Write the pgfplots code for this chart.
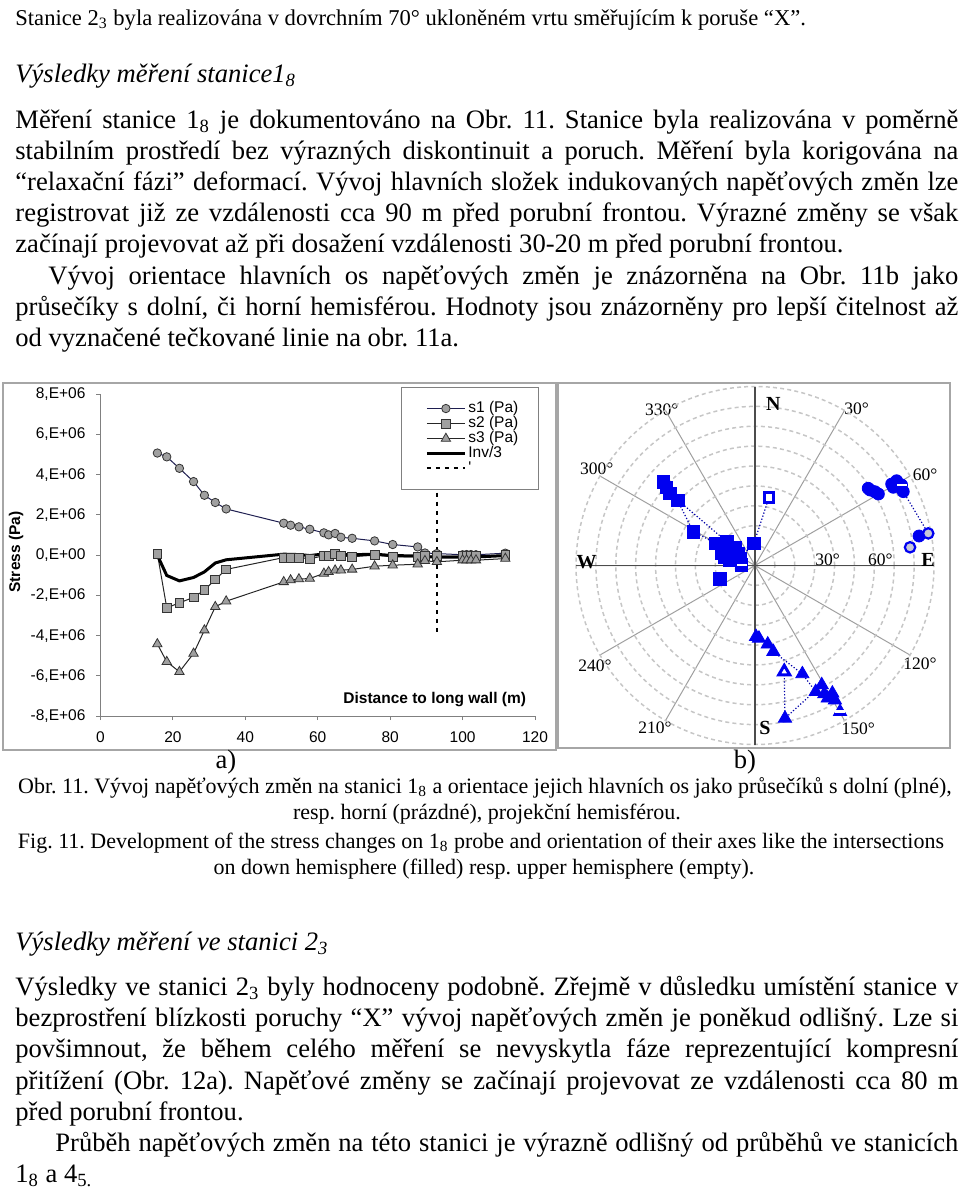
\documentclass[border=0pt]{standalone}
\usepackage{fontspec}
\setmainfont{Liberation Serif}
\newfontfamily\arial{Liberation Sans}
\usepackage{pgfplots}
\pgfplotsset{compat=1.18}
\usepgfplotslibrary{polar}
\definecolor{mk}{RGB}{160,160,160}
\definecolor{navy1}{RGB}{30,30,80}
\definecolor{pblue}{RGB}{0,0,240}
\newcommand\bodyf{\fontsize{13.3pt}{15.5pt}\selectfont}
\newcommand\capf{\fontsize{11pt}{13pt}\selectfont}
\newcommand\chf{\arial\fontsize{7.75pt}{9pt}\selectfont}
\newcommand\jl[4]{\node[anchor=base west,inner sep=0pt] at (#1,#2) {\bodyf\makebox[#3][s]{#4}};}
\newcommand\tl[3]{\node[anchor=base west,inner sep=0pt] at (#1,#2) {\bodyf #3};}
\frenchspacing
\begin{document}
\begin{tikzpicture}
\begin{scope}[x=0.5pt,y=-0.5pt]
\path[use as bounding box] (0,0) rectangle (960,1190);
% ---------- text above ----------
\node[anchor=base west,inner sep=0pt] at (15,25) {\fontsize{11.3pt}{13pt}\selectfont Stanice 2\textsubscript{3} byla realizována v dovrchním 70° ukloněném vrtu směřujícím k poruše “X”.};
\tl{15}{82}{\itshape Výsledky měření stanice1\textsubscript{8}}
\jl{15}{128}{471.5pt}{Měření stanice 1\textsubscript{8} je dokumentováno na Obr. 11. Stanice byla realizována v poměrně}
\jl{15}{159}{471.5pt}{stabilním prostředí bez výrazných diskontinuit a poruch. Měření byla korigována na}
\jl{15}{190}{471.5pt}{“relaxační fázi” deformací. Vývoj hlavních složek indukovaných napěťových změn lze}
\jl{15}{221}{471.5pt}{registrovat již ze vzdálenosti cca 90 m před porubní frontou. Výrazné změny se však}
\tl{15}{252}{začínají projevovat až při dosažení vzdálenosti 30-20 m před porubní frontou.}
\jl{48}{284}{455pt}{Vývoj orientace hlavních os napěťových změn je znázorněna na Obr. 11b jako}
\jl{15}{315}{471.5pt}{průsečíky s dolní, či horní hemisférou. Hodnoty jsou znázorněny pro lepší čitelnost až}
\tl{15}{346}{od vyznačené tečkované linie na obr. 11a.}
% ---------- frames ----------
\draw[gray!70, line width=0.6pt] (3,383) rectangle (556,750);
\draw[gray!70, line width=0.6pt] (558,383) rectangle (950,748);
\node[font=\chf\bfseries, rotate=90] at (16,552) {Stress (Pa)};
% polar labels
\begin{scope}[font=\fontsize{8.75pt}{10pt}\selectfont]
\node at (856.7,408.3) {30°};
\node at (925,475) {60°};
\node at (920,663.3) {120°};
\node at (858.3,728.3) {150°};
\node at (655,727.7) {210°};
\node at (595,665.7) {240°};
\node at (596.7,468.3) {300°};
\node at (661.7,409.3) {330°};
\end{scope}
% ---------- captions ----------
\node[anchor=base, inner sep=0pt] at (226,768) {\bodyf a)};
\node[anchor=base, inner sep=0pt] at (745,768) {\bodyf b)};
\node[anchor=base, inner sep=0pt] at (485,793) {\capf Obr. 11. Vývoj napěťových změn na stanici 1\textsubscript{8} a orientace jejich hlavních os jako průsečíků s dolní (plné),};
\node[anchor=base, inner sep=0pt] at (487,819) {\capf resp. horní (prázdné), projekční hemisférou.};
\node[anchor=base, inner sep=0pt] at (481,848) {\capf Fig. 11. Development of the stress changes on 1\textsubscript{8} probe and orientation of their axes like the intersections};
\node[anchor=base, inner sep=0pt] at (484,874) {\capf on down hemisphere (filled) resp. upper hemisphere (empty).};
% ---------- text below ----------
\tl{15}{950}{\itshape Výsledky měření ve stanici 2\textsubscript{3}}
\jl{15}{995}{471.5pt}{Výsledky ve stanici 2\textsubscript{3} byly hodnoceny podobně. Zřejmě v důsledku umístění stanice v}
\jl{15}{1026}{471.5pt}{bezprostření blízkosti poruchy “X” vývoj napěťových změn je poněkud odlišný. Lze si}
\jl{15}{1057}{471.5pt}{povšimnout, že během celého měření se nevyskytla fáze reprezentující kompresní}
\jl{15}{1089}{471.5pt}{přitížení (Obr. 12a). Napěťové změny se začínají projevovat ze vzdálenosti cca 80 m}
\tl{15}{1120}{před porubní frontou.}
\jl{55}{1151}{451.5pt}{Průběh napěťových změn na této stanici je výrazně odlišný od průběhů ve stanicích}
\tl{15}{1182}{1\textsubscript{8} a 4\textsubscript{5.}}
\end{scope}
% ---------- chart a ----------
\begin{axis}[
  at={(50.25pt,-358pt)}, anchor=south west,
  scale only axis, width=217.25pt, height=160.85pt,
  xmin=0, xmax=120, ymin=-8000000, ymax=8000000,
  axis x line*=bottom, axis y line*=left,
  axis line style={gray, line width=0.5pt},
  tick style={gray, line width=0.5pt},
  tick align=outside, major tick length=2pt,
  xtick={0,20,40,60,80,100,120},
  xticklabels={0,20,40,60,80,100,120},
  ytick={-8000000,-6000000,-4000000,-2000000,0,2000000,4000000,6000000,8000000},
  yticklabels={{-8,E+06},{-6,E+06},{-4,E+06},{-2,E+06},{0,E+00},{2,E+06},{4,E+06},{6,E+06},{8,E+06}},
  ticklabel style={font=\chf, text=black},
  yticklabel style={xshift=-2pt},
  xticklabel style={yshift=-2.5pt},
  scaled y ticks=false,
  clip=false,
  legend style={at={(0.6916,1.0227)}, anchor=north west, draw=gray, fill=white,
    font=\chf, inner xsep=4pt, inner ysep=6pt, row sep=-1.6pt,
    nodes={inner sep=1pt},
    /tikz/every even column/.append style={column sep=2pt}},
  legend cell align=left,
  legend image code/.code={\path (-8pt,0pt); \draw[mark repeat=2,mark phase=2,#1] plot coordinates {(0pt,0pt) (9.5pt,0pt) (19pt,0pt)};},
]
\addplot[navy1, line width=0.5pt, mark=*, mark size=2.1pt, mark options={fill=mk, draw=black!80, line width=0.4pt}] coordinates {
(15.7,5.08e6)(18.3,4.89e6)(21.8,4.32e6)(25.7,3.66e6)(28.7,2.98e6)(31.7,2.62e6)(34.7,2.30e6)
(50.6,1.59e6)(52.5,1.49e6)(54.8,1.41e6)(57.8,1.29e6)(61.7,1.11e6)(63.0,1.01e6)(64.8,1.08e6)
(66.4,0.89e6)(69.5,0.84e6)(75.7,0.71e6)(80.7,0.53e6)(87.6,0.41e6)(89.6,0.11e6)(92.9,0.08e6)
(100.0,0.02e6)(101.1,0.03e6)(102.3,0.03e6)(103.7,0.02e6)(111.8,0.10e6)};
\addlegendentry{s1 (Pa)\hspace*{5pt}}
\addplot[black!85, line width=0.5pt, mark=square*, mark size=2.2pt, mark options={fill=mk, draw=black!80, line width=0.4pt}] coordinates {
(15.7,0.08e6)(18.3,-2.62e6)(21.8,-2.37e6)(25.7,-2.10e6)(28.7,-1.74e6)(31.7,-1.21e6)(34.7,-0.71e6)
(50.6,-0.12e6)(52.5,-0.12e6)(54.8,-0.12e6)(57.8,-0.18e6)(61.7,-0.03e6)(63.0,-0.03e6)(64.8,0.08e6)
(66.4,-0.03e6)(69.5,-0.08e6)(75.7,0.0)(80.7,-0.08e6)(87.6,-0.08e6)(89.6,-0.05e6)(92.9,-0.05e6)
(100.0,-0.05e6)(101.1,-0.05e6)(102.3,-0.05e6)(103.7,-0.05e6)(111.8,0.0)};
\addlegendentry{s2 (Pa)}
\addplot[black!85, line width=0.5pt, mark=triangle*, mark size=2.7pt, mark options={fill=mk, draw=black!80, line width=0.4pt}] coordinates {
(15.7,-4.42e6)(18.3,-5.30e6)(21.8,-5.80e6)(25.7,-4.89e6)(28.7,-3.73e6)(31.7,-2.57e6)(34.7,-2.29e6)
(50.6,-1.33e6)(52.5,-1.24e6)(54.8,-1.19e6)(57.8,-1.16e6)(61.7,-0.91e6)(63.0,-0.83e6)(64.8,-0.75e6)
(66.4,-0.75e6)(69.5,-0.71e6)(75.7,-0.55e6)(80.7,-0.50e6)(87.6,-0.45e6)(89.6,-0.28e6)(92.9,-0.33e6)
(100.0,-0.25e6)(101.1,-0.25e6)(102.3,-0.25e6)(103.7,-0.25e6)(111.8,-0.17e6)};
\addlegendentry{s3 (Pa)}
\addplot[black, line width=1.5pt, no marks] coordinates {
(15.7,0.0)(18.3,-1.01e6)(21.8,-1.28e6)(25.7,-1.11e6)(28.7,-0.83e6)(31.7,-0.39e6)(34.7,-0.23e6)
(50.6,0.05e6)(52.5,0.04e6)(54.8,0.03e6)(57.8,-0.02e6)(61.7,0.06e6)(63.0,0.05e6)(64.8,0.14e6)
(66.4,0.04e6)(69.5,0.02e6)(75.7,0.05e6)(80.7,-0.02e6)(87.6,-0.04e6)(89.6,-0.07e6)(92.9,-0.10e6)
(100.0,-0.09e6)(101.1,-0.09e6)(102.3,-0.09e6)(103.7,-0.09e6)(111.8,-0.02e6)};
\addlegendentry{Inv/3}
\addplot[black, line width=1pt, dash pattern=on 2pt off 2.5pt, no marks] coordinates {(93,4000000)(93,-4000000)};
\addlegendentry{'}
\node[font=\chf\bfseries] at (axis cs:92.3,-7160000) {Distance to long wall (m)};
\end{axis}
% ---------- polar b ----------
\begin{polaraxis}[
  at={(377.5pt,-282.75pt)}, anchor=center,
  scale only axis, width=179pt, height=179pt,
  ymin=0, ymax=90,
  xtick={0,30,...,330}, ytick={10,20,...,90},
  xticklabel=\empty, yticklabel=\empty,
  major tick length=0pt,
  grid=major,
  x grid style={gray!75, line width=0.5pt},
  y grid style={gray!45, line width=0.75pt, dash pattern=on 2pt off 1.6pt},
  axis line style={draw=none},
  clip=false,
]
\addplot[gray!60!black, line width=0.6pt] coordinates {(90,90)(270,90)};
\addplot[gray!60!black, line width=0.6pt] coordinates {(0,90)(180,90)};
\node[font=\fontsize{8.75pt}{10pt}\selectfont, anchor=base, inner sep=0pt] at (axis cs:0,36.5) {30°};
\node[font=\fontsize{8.75pt}{10pt}\selectfont, anchor=base, inner sep=0pt] at (axis cs:0,63) {60°};
\node[font=\fontsize{10pt}{11pt}\selectfont\bfseries, inner sep=0pt] at (axis cs:83.5,82) {N};
\node[font=\fontsize{10pt}{11pt}\selectfont\bfseries, inner sep=0pt] at (axis cs:1.8,87) {E};
\node[font=\fontsize{10pt}{11pt}\selectfont\bfseries, inner sep=0pt] at (axis cs:273.5,82) {S};
\node[font=\fontsize{10pt}{11pt}\selectfont\bfseries, inner sep=0pt] at (axis cs:178.7,84.7) {W};
% dotted connections
\addplot[pblue!70!black, densely dotted, line width=0.6pt] coordinates {(26.5,83.3)(10.5,88.6)};
\addplot[pblue!70!black, densely dotted, line width=0.6pt] coordinates {(140.0,50.7)(151.3,35.4)(150.3,22.6)};
\addplot[pblue!70!black, densely dotted, line width=0.6pt] coordinates {(139.7,56.1)(139.9,18.6)};
\addplot[pblue!70!black, densely dotted, line width=0.6pt] coordinates {(78.4,35.0)(92.6,11.2)(154.4,8.4)};
\addplot[pblue!70!black, densely dotted, line width=0.6pt] coordinates {(282.0,44.3)(293.6,59.5)(295.7,70.4)};
\addplot[pblue!70!black, densely dotted, line width=0.6pt] coordinates {(285.4,55.4)(281.1,78.3)(299.2,68.8)};
% filled circles
\addplot[only marks, mark=*, mark size=3pt, pblue] coordinates {
(34.3,68.9)(33.3,69.2)(31.6,70.8)(30.1,71.7)(30.8,80.0)(30.9,83.0)(29.5,79.9)(28.8,84.1)(26.5,83.3)(10.2,83.8)};
\addplot[only marks, mark=*, mark size=2.6pt, mark options={fill={rgb,255:red,200;green,200;blue,215}, draw=pblue, line width=1.1pt}] coordinates {(10.5,88.6)(6.7,78.5)};
% squares
\addplot[only marks, mark=square*, mark size=3.1pt, pblue] coordinates {
(137.6,62.4)(138.5,59.3)(139.7,56.1)(140.0,50.7)(151.3,35.4)(150.3,22.6)(139.9,18.6)(147.2,16.0)
(163.7,15.7)(167.6,12.9)(144.8,10.6)(154.4,8.4)(178,6.7)(92.6,11.2)(201.1,18.9)(159.9,17.8)(138.8,13.4)};
\addplot[only marks, mark=square*, mark size=2.4pt, mark options={fill=white, draw=pblue, line width=1.6pt}] coordinates {(78.4,35.0)};
% triangles
\addplot[only marks, mark=triangle*, mark size=3.8pt, pblue] coordinates {
(270.8,35.8)(273.1,36.7)(279.2,40.1)(282.0,44.3)(293.6,59.5)(295.7,70.4)(299.2,68.8)(298.3,73.4)
(298.7,76.1)(301.2,75.1)(300.7,78.7)(300.2,85.0)(281.1,78.3)};
\addplot[only marks, mark=triangle*, mark size=3.2pt, mark options={fill=white, draw=pblue, line width=1.5pt}] coordinates {(285.4,55.4)};
% white dashes
\addplot[only marks, mark=-, mark size=2.5pt, white, line width=1.2pt] coordinates {(28.8,84.1)(178,6.7)(300.2,85.0)};
\end{polaraxis}
\end{tikzpicture}
\end{document}
